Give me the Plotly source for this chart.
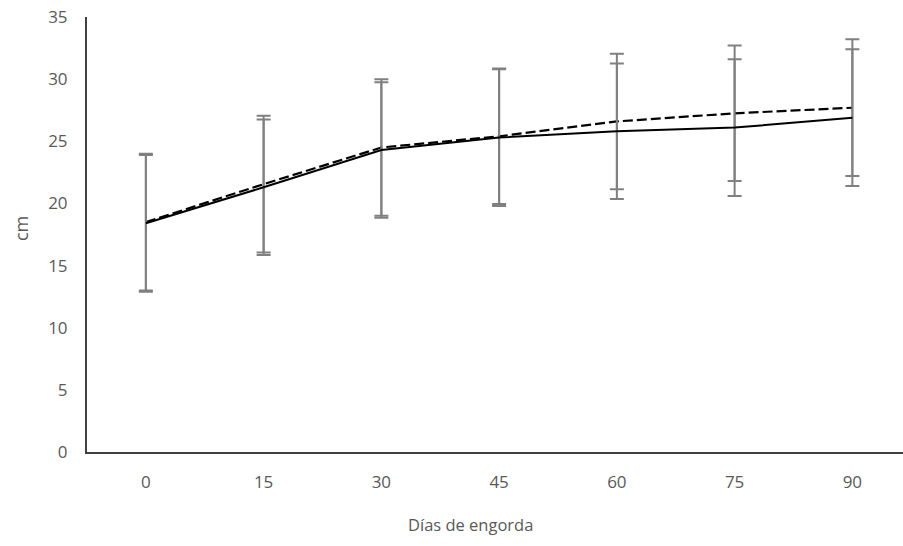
import plotly.graph_objects as go

dias = ["0", "15", "30", "45", "60", "75", "90"]
serie_continua = [18.4, 21.3, 24.3, 25.3, 25.8, 26.1, 26.9]
serie_discontinua = [18.5, 21.55, 24.5, 25.4, 26.6, 27.25, 27.7]
error_continua = [5.5, 5.45, 5.45, 5.5, 5.45, 5.5, 5.5]
error_discontinua = [5.5, 5.5, 5.5, 5.45, 5.45, 5.45, 5.5]
y_ticks = [0, 5, 10, 15, 20, 25, 30, 35]

font_fam = "Open Sans, Noto Sans, sans-serif"
txt_color = "#595959"
err_color = "#808080"

fig = go.Figure()
fig.add_trace(go.Scatter(
    x=dias, y=serie_discontinua, mode="lines",
    line=dict(color="black", width=2.2, dash="10px,4px"),
    error_y=dict(type="data", array=error_discontinua, visible=True,
                 color=err_color, thickness=2, width=7),
    showlegend=False,
))
fig.add_trace(go.Scatter(
    x=dias, y=serie_continua, mode="lines",
    line=dict(color="black", width=2),
    error_y=dict(type="data", array=error_continua, visible=True,
                 color=err_color, thickness=2, width=7),
    showlegend=False,
))

fig.update_layout(
    width=903, height=546,
    margin=dict(l=87, r=0, t=17, b=94),
    plot_bgcolor="white", paper_bgcolor="white",
    font=dict(family=font_fam, size=17, color=txt_color),
    xaxis=dict(type="category", range=[-0.5, 6.43], showgrid=False,
               showline=True, linecolor="#404040", linewidth=2,
               ticks="", ticklabelstandoff=14,
               tickfont=dict(size=17, color=txt_color)),
    yaxis=dict(range=[0, 35], tickvals=y_ticks, showgrid=False,
               showline=True, linecolor="#404040", linewidth=2,
               ticks="", ticklabelstandoff=14, zeroline=False,
               tickfont=dict(size=17, color=txt_color)),
    annotations=[
        dict(text="Días de engorda", xref="paper", yref="paper",
             x=(470 - 87) / 816, y=-(524 - 452) / 435,
             xanchor="center", yanchor="middle", showarrow=False,
             font=dict(size=16.5, color=txt_color)),
        dict(text="cm", xref="paper", yref="paper",
             x=-(87 - 21) / 816, y=(452 - 229) / 435, textangle=-90,
             xanchor="center", yanchor="middle", showarrow=False,
             font=dict(size=18, color=txt_color)),
    ],
)

fig.write_html("out.html")
